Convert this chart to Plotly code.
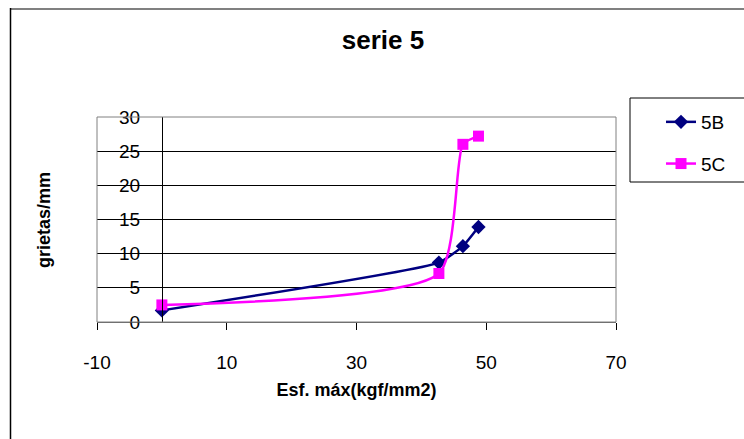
import plotly.graph_objects as go

# Stress vs. crack density, series 5
esf_5b = [0.0, 42.7, 46.4, 48.8]
grietas_5b = [1.7, 8.7, 11.1, 13.9]
esf_5c = [0.0, 42.7, 46.4, 48.8]
grietas_5c = [2.5, 7.1, 26.0, 27.2]

x_range = [-10, 70]
y_range = [0, 30]
x_ticks = [-10, 10, 30, 50, 70]
x_tick_labels = ["-10", "10", "30", "50", "70"]
y_ticks = [0, 5, 10, 15, 20, 25, 30]

W, H = 744, 439
ML, MR, MT, MB = 97, 128, 117, 117
PW, PH = W - ML - MR, H - MT - MB
FONT = "Arial, Liberation Sans, sans-serif"


def px(x):
    return (x - ML) / PW


def py(y):
    return (H - MB - y) / PH


fig = go.Figure()
fig.add_trace(go.Scatter(
    x=esf_5b, y=grietas_5b, name="5B", legendgroup="b",
    mode="lines+markers",
    line=dict(color="#000080", width=2.5, shape="spline", smoothing=0.45),
    marker=dict(symbol="diamond", size=11, color="#000080"),
))
fig.add_trace(go.Scatter(
    x=esf_5c, y=grietas_5c, name="5C", legendgroup="c",
    mode="lines+markers",
    line=dict(color="#FF00FF", width=2.5, shape="spline", smoothing=0.6),
    marker=dict(symbol="square", size=11, color="#FF00FF"),
))

y_axis_pos = (0 - x_range[0]) / (x_range[1] - x_range[0])

fig.update_layout(
    width=W, height=H,
    margin=dict(l=ML, r=MR, t=MT, b=MB),
    paper_bgcolor="white", plot_bgcolor="white",
    font=dict(family=FONT, color="black", size=19),
    title=dict(text="<b>serie 5</b>", font=dict(size=26, family=FONT),
               x=383 / W, xanchor="center", xref="container",
               y=1 - 40 / H, yanchor="middle", yref="container"),
    xaxis=dict(range=x_range, tickvals=x_ticks, ticktext=x_tick_labels,
               ticks="outside", ticklen=7,
               tickcolor="black", showline=True, linecolor="#606060",
               showgrid=False, zeroline=False, ticklabelstandoff=16,
               tickfont=dict(size=19),
               title=dict(text="<b>Esf. máx(kgf/mm2)</b>", font=dict(size=18),
                          standoff=11)),
    yaxis=dict(range=y_range, tickvals=y_ticks, anchor="free",
               position=y_axis_pos, showline=True, linecolor="black",
               ticks="outside", ticklen=18, tickcolor="rgba(0,0,0,0)",
               showgrid=True, gridcolor="black", gridwidth=1,
               zeroline=False, tickfont=dict(size=19)),
    legend=dict(x=px(661), y=py(103), xanchor="left", yanchor="top",
                bgcolor="rgba(0,0,0,0)", borderwidth=0,
                tracegroupgap=14, font=dict(size=19)),
    shapes=[
        # plot area border
        dict(type="rect", xref="paper", yref="paper", x0=0, x1=1, y0=0, y1=1,
             line=dict(color="#808080", width=1)),
        # chart frame
        dict(type="line", xref="paper", yref="paper", x0=px(10), x1=px(760),
             y0=py(9), y1=py(9), line=dict(color="#808080", width=2)),
        dict(type="line", xref="paper", yref="paper", x0=px(10.5), x1=px(10.5),
             y0=py(8), y1=py(460), line=dict(color="black", width=1.5)),
        # legend frame
        dict(type="rect", xref="paper", yref="paper", x0=px(630), x1=px(770),
             y0=py(182), y1=py(98), line=dict(color="black", width=1)),
    ],
)

# y title placed to the left of the plot area
fig.add_annotation(text="<b>grietas/mm</b>", xref="paper", yref="paper",
                   x=px(44), y=py(220), textangle=-90, showarrow=False,
                   font=dict(size=18, family=FONT), xanchor="center",
                   yanchor="middle")

fig.write_html("out.html")
